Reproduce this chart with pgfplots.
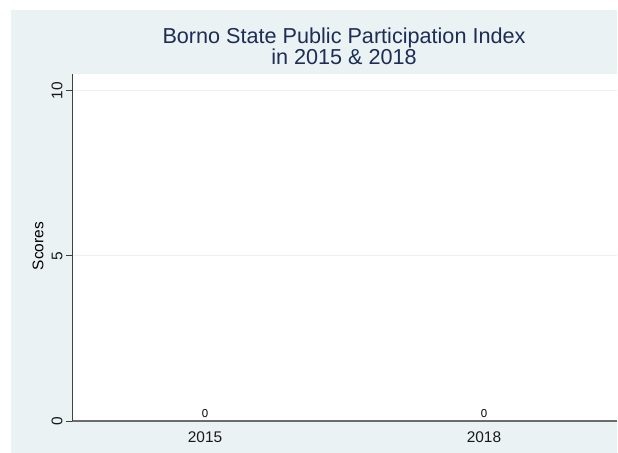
\documentclass[border=0pt]{standalone}
\usepackage{pgfplots}
\pgfplotsset{compat=1.18}
\usepackage{fontspec}
\setmainfont{Liberation Sans}
\definecolor{bgc}{HTML}{EAF2F3}
\definecolor{titlec}{HTML}{1E2D55}
\definecolor{gridc}{HTML}{EAF2F3}
\begin{document}
\begin{tikzpicture}[x=1bp,y=1bp]
\path[use as bounding box] (0,0) rectangle (618,453);
\fill[bgc] (11,0) rectangle (617,443);
\node[font=\fontsize{21.7}{22}\selectfont, text=titlec, anchor=base] at (344,409) {Borno State Public Participation Index};
\node[font=\fontsize{21.7}{22}\selectfont, text=titlec, anchor=base] at (344,388) {in 2015 \& 2018};
\begin{axis}[
  at={(72bp,32bp)}, anchor=south west,
  width=545bp, height=347bp, scale only axis,
  axis background/.style={fill=white},
  xmin=-0.477, xmax=1.477,
  ymin=0, ymax=10.5,
  axis x line*=bottom, axis y line*=left,
  x axis line style={draw=gray!85!black, line width=1.2pt},
  y axis line style={draw=black!75, line width=0.6pt},
  xtick={0,1}, xticklabels={2015,2018},
  xtick style={draw=none},
  ytick={0,5,10},
  tick align=outside,
  major tick length=6bp,
  ytick style={draw=black!75, line width=0.6pt},
  ymajorgrids, grid style={draw=gridc, line width=0.6pt},
  /pgf/number format/assume math mode=true,
  tick label style={font=\fontsize{15.5}{17}\selectfont, text=black!90},
  yticklabel style={rotate=90, anchor=south},
  xticklabel style={yshift=-1bp},
  ylabel={Scores},
  ylabel style={at={(axis description cs:-0.0624,0.504)}, anchor=center, font=\fontsize{15.5}{17}\selectfont},
  nodes near coords,
  every node near coord/.append style={font=\fontsize{11.5}{12}\selectfont, text=black, anchor=south, yshift=-0.5bp, /pgf/number format/assume math mode=true},
  clip=false,
]
\addplot[ybar, bar width=40bp, draw=none, fill=none] coordinates {(0,0) (1,0)};
\end{axis}
\end{tikzpicture}
\end{document}
